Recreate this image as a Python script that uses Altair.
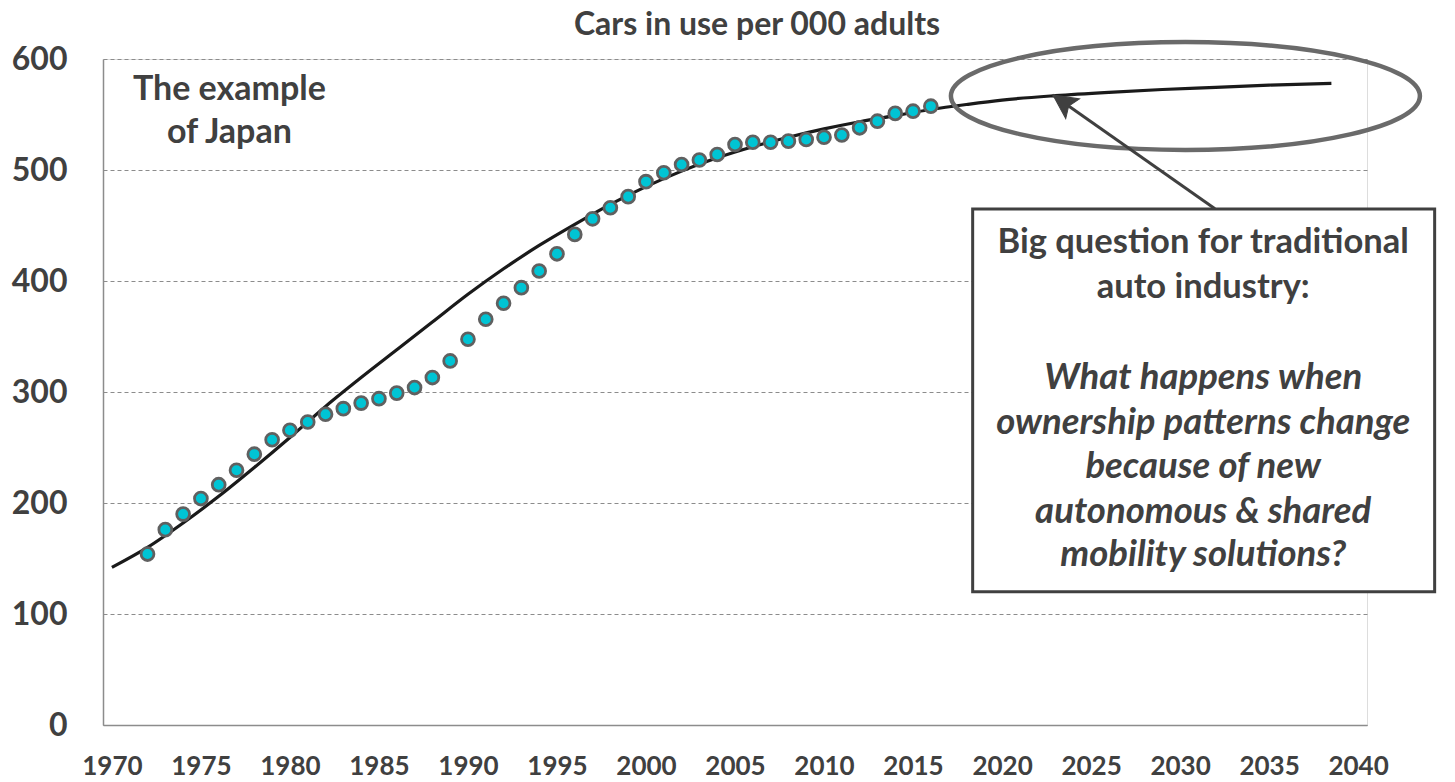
import altair as alt
import pandas as pd

# ---- data ----
obs_years = list(range(1972, 2017))
obs_values = [154, 176, 190, 204, 216.5, 229.5, 244, 257, 265.5, 273,
              280, 285, 290, 294, 299, 304, 313, 328, 347.5, 365.5,
              380, 394, 409, 424.5, 442, 456, 466, 476, 489.5, 497.5,
              505, 509, 514, 523, 525, 525, 526, 527.5, 529.5, 531.5,
              538, 544, 551, 553, 557.5]

trend_years = [1970, 1972, 1974, 1976, 1978, 1980, 1982, 1984, 1986, 1988,
               1990, 1992, 1994, 1996, 1998, 2000, 2002, 2004, 2006, 2008,
               2010, 2012, 2014, 2016, 2018, 2020, 2023, 2026, 2029, 2032,
               2035, 2038.5]
trend_values = [142, 160, 182, 206, 232, 259, 287, 313, 338, 363,
                388, 411, 432, 451, 469, 485, 499, 511, 521, 529.5,
                537, 543.5, 549, 554.5, 559, 563, 567, 570, 572.5, 574.5,
                576.5, 578]

x_ticks = list(range(1970, 2041, 5))
y_ticks = [0, 100, 200, 300, 400, 500, 600]

title_text = "Cars in use per 000 adults"
left_note = ["The example", "of Japan"]
box_bold = ["Big question for traditional", "auto industry:"]
box_italic = ["What happens when", "ownership patterns change", "because of new",
              "autonomous & shared", "mobility solutions?"]

# ---- annotation anchors (data coordinates) ----
left_note_pos = dict(x=1976.6, y=[572, 533])
box_pos = dict(x=2018.35, x2=2044.3, y=464.9, y2=120.1)
box_text_x = 2031.3
box_bold_y = [434.2, 393.7]
box_italic_y = [312.6, 272.1, 232.4, 191.9, 153.2]
ellipse_pos = dict(x=2030.3, y=566.7)
arrow_pos = dict(x=2031.96, y=465.0, x2=2022.86, y2=567.6)

FONT = "Lato"
TXT = "#404040"

obs = pd.DataFrame({"year": obs_years, "value": obs_values})
trend = pd.DataFrame({"year": trend_years, "value": trend_values})

xs = alt.Scale(domain=[1969.5, 2040.5], nice=False, zero=False)
ys = alt.Scale(domain=[0, 600], nice=False)

X = alt.X("year:Q", scale=xs, axis=alt.Axis(
    values=x_ticks, format="d", grid=False, ticks=False, title=None,
    labelFont=FONT, labelFontSize=26, labelFontWeight="bold", labelColor=TXT,
    labelPadding=41, labelBaseline="middle",
    domainColor="#8c8c8c", domainWidth=1.5))
Y = alt.Y("value:Q", scale=ys, axis=alt.Axis(
    values=y_ticks, grid=True, gridDash=[4, 3], gridColor="#8c8c8c", gridWidth=1,
    ticks=False, title=None, labelFont=FONT, labelFontSize=32, labelFontWeight="bold",
    labelColor=TXT, labelPadding=36, domainColor="#8c8c8c", domainWidth=1.5))

line = alt.Chart(trend).mark_line(color="#1a1a1a", strokeWidth=3.2,
                                   interpolate="monotone").encode(x=X, y=Y)

dots = alt.Chart(obs).mark_point(filled=True, shape="circle", size=165,
                                  fill="#00C4D4", stroke="#606060",
                                  strokeWidth=2.8, opacity=1).encode(
    x=alt.X("year:Q", scale=xs), y=alt.Y("value:Q", scale=ys))

k = 0.5523
r = 0.23
ell_path = (f"M -1,0 C -1,{-k*r:.4f} {-k},{-r} 0,{-r} C {k},{-r} 1,{-k*r:.4f} 1,0 "
            f"C 1,{k*r:.4f} {k},{r} 0,{r} C {-k},{r} -1,{k*r:.4f} -1,0 Z")
ellipse = alt.Chart(pd.DataFrame([ellipse_pos])).mark_point(
    shape=ell_path, size=469 ** 2, filled=False, stroke="#6a6a6a",
    strokeWidth=4.5, opacity=1).encode(
    x=alt.X("x:Q", scale=xs), y=alt.Y("y:Q", scale=ys))

arrow_df = pd.DataFrame([arrow_pos])
arrow_line = alt.Chart(arrow_df).mark_rule(color="#404040", strokeWidth=3).encode(
    x=alt.X("x:Q", scale=xs), y=alt.Y("y:Q", scale=ys), x2="x2:Q", y2="y2:Q")
arrow_head = alt.Chart(arrow_df).mark_point(
    shape="M0,0 L-0.5,1 L0,0.8 L0.5,1 Z", size=48 ** 2, filled=True,
    fill="#404040", stroke="#404040", strokeWidth=1, angle=305, opacity=1).encode(
    x=alt.X("x2:Q", scale=xs), y=alt.Y("y2:Q", scale=ys))

box = alt.Chart(pd.DataFrame([box_pos])).mark_rect(
    fill="white", stroke="#404040", strokeWidth=3).encode(
    x=alt.X("x:Q", scale=xs), x2="x2:Q", y=alt.Y("y:Q", scale=ys), y2="y2:Q")

bold_df = pd.DataFrame({"t": box_bold, "x": box_text_x, "y": box_bold_y})
ital_df = pd.DataFrame({"t": box_italic, "x": box_text_x, "y": box_italic_y})
box_t1 = alt.Chart(bold_df).mark_text(font=FONT, fontSize=34.5, fontWeight="bold",
                                      color=TXT, align="center", baseline="middle").encode(
    x=alt.X("x:Q", scale=xs), y=alt.Y("y:Q", scale=ys), text="t:N")
box_t2 = alt.Chart(ital_df).mark_text(font=FONT, fontSize=36.5, fontWeight="bold",
                                      fontStyle="italic", color=TXT, align="center",
                                      baseline="middle").encode(
    x=alt.X("x:Q", scale=xs), y=alt.Y("y:Q", scale=ys), text="t:N")

note_df = pd.DataFrame({"t": left_note, "x": left_note_pos["x"], "y": left_note_pos["y"]})
note = alt.Chart(note_df).mark_text(font=FONT, fontSize=34, fontWeight="bold",
                                    color=TXT, align="center", baseline="middle").encode(
    x=alt.X("x:Q", scale=xs), y=alt.Y("y:Q", scale=ys), text="t:N")

chart = alt.layer(line, dots, ellipse, arrow_line, arrow_head, box, box_t1, box_t2, note).properties(
    width=1264, height=666,
    title=alt.TitleParams(title_text, font=FONT, fontSize=32, fontWeight="bold",
                          color=TXT, anchor="middle", dx=22, dy=26, offset=17),
    autosize=alt.AutoSizeParams(type="none"),
    padding={"left": 103, "top": 59, "right": 88, "bottom": 57},
).configure_view(stroke=None).configure(background="white")

chart.save("out.html", embed_options={"renderer": "svg", "actions": False})
